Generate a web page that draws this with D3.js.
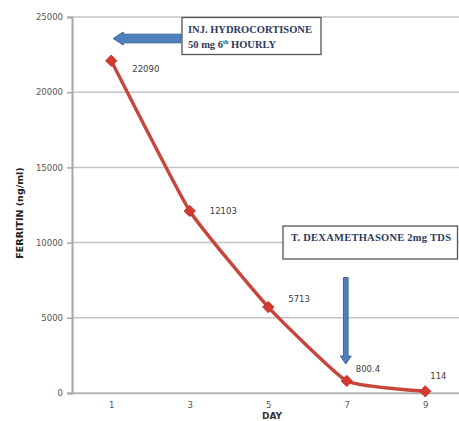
<!DOCTYPE html>
<html><head><meta charset="utf-8">
<script src="https://cdn.jsdelivr.net/npm/d3@7"></script>
<style>
html,body{margin:0;padding:0;background:#fff;}
svg{display:block;}
</style></head>
<body><svg id="c" width="459" height="421"></svg>
<script>
const days = ["1","3","5","7","9"];
const ferritin = [22090, 12103, 5713, 800.4, 114];
const dataLabels = ["22090","12103","5713","800.4","114"];
const yTicks = [0, 5000, 10000, 15000, 20000, 25000];
const yTitle = "FERRITIN (ng/ml)";
const xTitle = "DAY";
const note1a = "INJ. HYDROCORTISONE";
const note1b = ["50 mg 6", "th", " HOURLY"];
const note2 = "T. DEXAMETHASONE 2mg TDS";

const svg = d3.select("#c");
const L = 72, R = 464.5, T = 17, B = 393;
const x = d3.scalePoint().domain(days).range([L, R]).padding(0.5);
const y = d3.scaleLinear().domain([0, 25000]).range([B, T]);

// gridlines
svg.append("g").selectAll("line").data(yTicks).join("line")
  .attr("x1", L).attr("x2", 459).attr("y1", d => y(d)).attr("y2", d => y(d))
  .attr("stroke", "#c4c4c4").attr("stroke-width", 1.5);

// y axis
const ya = svg.append("g").attr("transform", `translate(${L},0)`)
  .call(d3.axisLeft(y).tickValues(yTicks).tickSize(5).tickPadding(4).tickFormat(d3.format("d")));
ya.select(".domain").attr("stroke", "#a6a6a6").attr("stroke-width", 2);
ya.selectAll(".tick line").attr("stroke", "#a6a6a6").attr("stroke-width", 1.5);
ya.selectAll("text").attr("font-family", "'DejaVu Sans', sans-serif").attr("font-size", 8.5).attr("fill", "#555");

// x axis
const xa = svg.append("g").attr("transform", `translate(0,${B})`)
  .call(d3.axisBottom(x).tickSize(0).tickPadding(9));
xa.select(".domain").attr("stroke", "#b0b0b0").attr("stroke-width", 1.5);
xa.selectAll("text").attr("font-family", "'DejaVu Sans', sans-serif").attr("font-size", 8.5).attr("fill", "#555");

// axis titles
svg.append("text").attr("x", 272).attr("y", 418.5).attr("text-anchor", "middle")
  .attr("font-family", "'DejaVu Sans', sans-serif").attr("font-weight", "bold").attr("font-size", 9).attr("fill", "#333").text(xTitle);
svg.append("text").attr("transform", "translate(23,213) rotate(-90)").attr("text-anchor", "middle")
  .attr("font-family", "'DejaVu Sans', sans-serif").attr("font-weight", "bold").attr("font-size", 9.5).attr("fill", "#222").text(yTitle);

// series
const pts = days.map((d, i) => [x(d), y(ferritin[i])]);
svg.append("path").attr("d", d3.line().curve(d3.curveCardinal.tension(0.6))(pts))
  .attr("fill", "none").attr("stroke", "#c8453c").attr("stroke-width", 3.4).attr("stroke-linejoin", "round");
svg.append("g").selectAll("path").data(pts).join("path")
  .attr("d", d3.symbol(d3.symbolSquare, 64)())
  .attr("transform", p => `translate(${p[0]},${p[1]}) rotate(45)`)
  .attr("fill", "#d6392f").attr("stroke", "#b82e26").attr("stroke-width", 0.8);

// data labels
const off = [[21, 11], [20, 3], [20, -5], [9, -9], [5, -12]];
svg.append("g").selectAll("text").data(pts).join("text")
  .attr("x", (p, i) => p[0] + off[i][0]).attr("y", (p, i) => p[1] + off[i][1])
  .attr("font-family", "'DejaVu Sans', sans-serif").attr("font-size", 8.5).attr("fill", "#404040")
  .text((p, i) => dataLabels[i]);

// annotation 1: box + left arrow
const ann = svg.append("g");
ann.append("rect").attr("x", 182).attr("y", 17.5).attr("width", 139).attr("height", 37)
  .attr("fill", "#fff").attr("stroke", "#555").attr("stroke-width", 1.3);
const serif = "'Liberation Serif', 'DejaVu Serif', serif";
ann.append("text").attr("x", 188).attr("y", 33).attr("font-family", serif).attr("font-weight", "bold")
  .attr("font-size", 10.5).attr("fill", "#2a3b5e").text(note1a);
const t2 = ann.append("text").attr("x", 188).attr("y", 48).attr("font-family", serif).attr("font-weight", "bold")
  .attr("font-size", 10.5).attr("fill", "#2a3b5e");
t2.append("tspan").text(note1b[0]);
t2.append("tspan").attr("font-size", 6).attr("dy", -4).text(note1b[1]);
t2.append("tspan").attr("dy", 4).text(note1b[2]);

const tipX = x(days[0]) + 2, ay = 38.5;
ann.append("path")
  .attr("d", `M${tipX},${ay} L${tipX + 10},${ay - 6.5} L${tipX + 10},${ay - 4.3} L181,${ay - 4.3} L181,${ay + 4.3} L${tipX + 10},${ay + 4.3} L${tipX + 10},${ay + 6.5} Z`)
  .attr("fill", "#4f81bd").attr("stroke", "#3a6496").attr("stroke-width", 1);

// annotation 2: box + down arrow
ann.append("rect").attr("x", 283).attr("y", 226).attr("width", 174.5).attr("height", 33)
  .attr("fill", "#fff").attr("stroke", "#555").attr("stroke-width", 1.3);
ann.append("text").attr("x", 291).attr("y", 240.5).attr("font-family", serif).attr("font-weight", "bold")
  .attr("font-size", 10.5).attr("letter-spacing", 0.25).attr("fill", "#2a3b5e").text(note2);
const ax = x(days[3]) - 1, top2 = 277.5, tip2 = 364;
ann.append("path")
  .attr("d", `M${ax - 2.3},${top2} L${ax + 2.3},${top2} L${ax + 2.3},${tip2 - 8} L${ax + 5.5},${tip2 - 8} L${ax},${tip2} L${ax - 5.5},${tip2 - 8} L${ax - 2.3},${tip2 - 8} Z`)
  .attr("fill", "#4f81bd").attr("stroke", "#3a6496").attr("stroke-width", 1);
</script></body></html>
